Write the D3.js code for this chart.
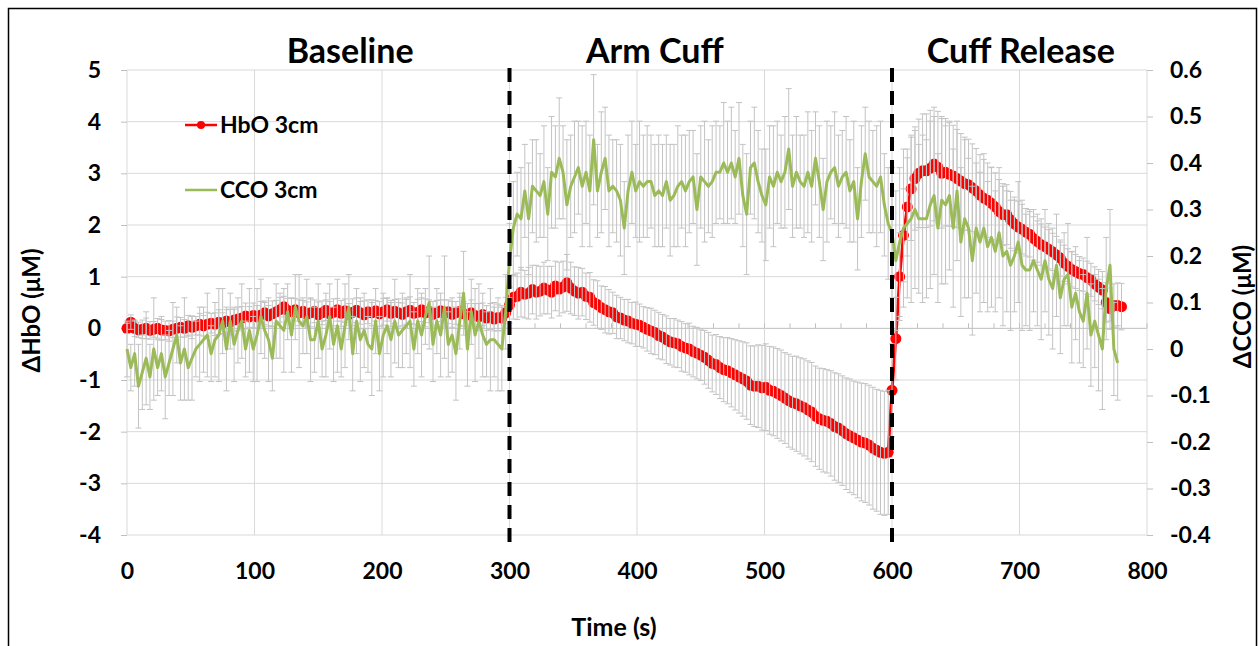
<!DOCTYPE html>
<html>
<head>
<meta charset="utf-8">
<script src="https://cdn.jsdelivr.net/npm/d3@7"></script>
<style>
  body { margin: 0; background: #fff; }
  text { font-family: Lato, "Open Sans", sans-serif; font-weight: bold; fill: #000; }
</style>
</head>
<body>
<div id="chart-area"></div>
<script>
const STEP = 3
const hbo = [
  0.0,0.12,0.0,-0.03,-0.02,0.0,-0.04,-0.02,0.0,-0.03,
  -0.04,-0.05,-0.02,0.0,0.02,0.0,0.05,0.02,0.05,0.08,
  0.05,0.08,0.1,0.08,0.12,0.1,0.14,0.12,0.16,0.18,
  0.2,0.24,0.22,0.25,0.22,0.26,0.3,0.24,0.28,0.32,
  0.36,0.42,0.35,0.32,0.36,0.3,0.33,0.27,0.3,0.33,
  0.26,0.3,0.35,0.28,0.31,0.36,0.29,0.34,0.27,0.31,
  0.35,0.3,0.26,0.32,0.3,0.34,0.28,0.32,0.36,0.29,
  0.33,0.3,0.27,0.32,0.35,0.29,0.31,0.36,0.3,0.33,
  0.27,0.3,0.34,0.29,0.32,0.27,0.3,0.33,0.28,0.26,
  0.3,0.25,0.22,0.27,0.2,0.23,0.18,0.21,0.2,0.3,
  0.45,0.6,0.62,0.7,0.66,0.68,0.75,0.7,0.72,0.78,
  0.74,0.7,0.82,0.76,0.8,0.88,0.78,0.72,0.68,0.7,
  0.62,0.6,0.5,0.46,0.4,0.36,0.32,0.3,0.22,0.2,
  0.16,0.14,0.1,0.08,0.06,0.02,-0.02,-0.05,-0.08,-0.14,
  -0.17,-0.22,-0.26,-0.28,-0.3,-0.35,-0.38,-0.4,-0.45,-0.48,
  -0.52,-0.56,-0.62,-0.68,-0.7,-0.76,-0.8,-0.82,-0.86,-0.9,
  -0.94,-0.98,-1.02,-1.1,-1.12,-1.12,-1.15,-1.14,-1.2,-1.22,
  -1.26,-1.3,-1.35,-1.4,-1.44,-1.46,-1.5,-1.53,-1.58,-1.62,
  -1.7,-1.75,-1.78,-1.8,-1.84,-1.9,-1.93,-1.98,-2.04,-2.08,
  -2.12,-2.16,-2.2,-2.22,-2.26,-2.32,-2.36,-2.4,-2.42,-2.4,
  -1.2,-0.2,1.0,1.8,2.35,2.7,2.9,3.0,3.05,3.05,
  3.1,3.18,3.12,3.0,3.02,2.98,2.95,2.9,2.85,2.8,
  2.78,2.72,2.66,2.58,2.52,2.48,2.42,2.35,2.26,2.2,
  2.2,2.1,2.02,1.96,1.92,1.86,1.82,1.74,1.68,1.62,
  1.58,1.53,1.48,1.42,1.36,1.26,1.2,1.14,1.1,1.06,
  1.04,0.98,0.94,0.86,0.8,0.74,0.5,0.38,0.44,0.44,
  0.42
]
const hboErr = [
  0.10,0.14,0.16,0.15,0.18,0.2,0.17,0.15,0.19,0.2,
  0.18,0.2,0.16,0.22,0.19,0.17,0.2,0.22,0.18,0.21,
  0.2,0.23,0.19,0.22,0.24,0.2,0.22,0.25,0.21,0.23,
  0.22,0.25,0.2,0.24,0.22,0.26,0.23,0.2,0.25,0.22,
  0.24,0.2,0.23,0.26,0.22,0.25,0.21,0.24,0.27,0.22,
  0.25,0.23,0.2,0.24,0.26,0.22,0.25,0.23,0.21,0.26,
  0.24,0.22,0.27,0.23,0.25,0.2,0.24,0.26,0.22,0.25,
  0.23,0.27,0.22,0.24,0.26,0.21,0.25,0.23,0.27,0.22,
  0.25,0.24,0.21,0.26,0.23,0.25,0.22,0.27,0.24,0.22,
  0.25,0.23,0.26,0.22,0.24,0.25,0.23,0.26,0.24,0.3,
  0.35,0.42,0.45,0.48,0.46,0.5,0.47,0.52,0.48,0.5,
  0.46,0.5,0.48,0.52,0.5,0.55,0.5,0.47,0.5,0.46,
  0.45,0.48,0.44,0.46,0.42,0.45,0.43,0.4,0.42,0.4,
  0.4,0.42,0.4,0.43,0.41,0.4,0.42,0.44,0.43,0.45,
  0.44,0.46,0.45,0.47,0.46,0.48,0.47,0.5,0.49,0.5,
  0.49,0.52,0.54,0.55,0.58,0.6,0.62,0.64,0.66,0.68,
  0.7,0.72,0.74,0.76,0.78,0.8,0.82,0.84,0.85,0.86,
  0.87,0.88,0.88,0.9,0.9,0.92,0.93,0.94,0.95,0.96,
  0.97,0.98,1.0,1.0,1.02,1.04,1.05,1.06,1.08,1.1,
  1.1,1.12,1.14,1.15,1.16,1.18,1.18,1.2,1.2,1.2,
  0.9,0.8,0.85,0.9,0.95,1.0,1.0,1.05,1.1,1.1,
  1.12,1.1,1.08,1.06,1.04,1.0,0.98,0.95,0.92,0.9,
  0.88,0.85,0.82,0.78,0.75,0.72,0.7,0.66,0.62,0.6,
  0.58,0.55,0.52,0.5,0.48,0.46,0.44,0.42,0.4,0.4,
  0.38,0.38,0.36,0.36,0.35,0.35,0.34,0.34,0.33,0.33,
  0.32,0.32,0.32,0.33,0.34,0.36,0.38,0.4,0.42,0.44,
  0.45
]
const cco = [
  0.0,-0.04,-0.01,-0.08,-0.05,-0.02,-0.06,0.0,-0.04,-0.01,
  -0.06,-0.03,0.0,0.03,-0.03,0.0,-0.04,-0.02,0.0,0.01,
  0.02,0.03,-0.01,0.02,0.03,0.06,0.0,0.06,0.01,0.04,
  0.06,0.0,0.04,0.0,0.03,0.07,0.04,0.02,-0.02,0.06,
  0.05,0.04,0.08,0.03,0.09,0.06,0.05,0.07,0.02,0.02,
  0.06,0.0,0.03,0.07,0.01,0.05,0.0,0.05,0.09,-0.01,
  0.06,0.02,0.04,0.01,0.0,0.06,-0.01,0.03,0.05,0.02,
  0.06,0.03,0.04,0.05,0.06,0.0,0.06,0.03,0.07,0.10,
  0.01,0.06,0.03,0.09,0.01,0.03,-0.01,0.06,0.12,0.0,
  0.08,0.03,0.06,0.03,0.01,0.02,0.02,0.01,0.0,0.08,
  0.19,0.26,0.29,0.28,0.34,0.28,0.35,0.34,0.33,0.36,
  0.29,0.38,0.37,0.41,0.38,0.31,0.35,0.37,0.39,0.35,
  0.38,0.34,0.45,0.34,0.38,0.41,0.34,0.35,0.34,0.32,
  0.26,0.34,0.38,0.34,0.36,0.35,0.36,0.36,0.33,0.34,
  0.33,0.36,0.32,0.33,0.35,0.36,0.34,0.36,0.37,0.30,
  0.37,0.36,0.35,0.36,0.38,0.38,0.40,0.38,0.40,0.37,
  0.41,0.33,0.29,0.39,0.40,0.36,0.33,0.31,0.37,0.35,
  0.38,0.36,0.38,0.43,0.35,0.38,0.36,0.35,0.38,0.35,
  0.41,0.36,0.30,0.36,0.38,0.39,0.35,0.37,0.38,0.34,
  0.36,0.28,0.36,0.42,0.37,0.36,0.35,0.37,0.31,0.27,
  0.25,0.19,0.23,0.26,0.27,0.28,0.30,0.28,0.28,0.28,
  0.31,0.33,0.26,0.32,0.31,0.33,0.26,0.34,0.23,0.28,
  0.26,0.19,0.26,0.23,0.26,0.22,0.24,0.21,0.25,0.20,
  0.21,0.18,0.20,0.23,0.18,0.17,0.17,0.19,0.17,0.15,
  0.19,0.15,0.13,0.18,0.11,0.15,0.16,0.09,0.12,0.08,
  0.06,0.12,0.03,0.06,0.03,0.00,0.13,0.18,0.00,-0.03
]
const ccoErr = [
  0.06,0.05,0.07,0.09,0.08,0.1,0.07,0.11,0.06,0.08,
  0.09,0.07,0.1,0.06,0.08,0.11,0.07,0.09,0.06,0.08,
  0.07,0.09,0.06,0.08,0.1,0.07,0.09,0.06,0.08,0.07,
  0.08,0.06,0.09,0.07,0.1,0.08,0.06,0.09,0.07,0.08,
  0.07,0.09,0.06,0.08,0.07,0.1,0.06,0.08,0.09,0.07,
  0.08,0.06,0.09,0.07,0.08,0.1,0.06,0.09,0.07,0.08,
  0.07,0.09,0.08,0.06,0.1,0.07,0.08,0.09,0.06,0.08,
  0.09,0.07,0.08,0.06,0.1,0.08,0.07,0.09,0.06,0.1,
  0.08,0.07,0.09,0.11,0.07,0.08,0.1,0.06,0.09,0.08,
  0.07,0.1,0.08,0.09,0.07,0.11,0.08,0.1,0.09,0.08,
  0.08,0.1,0.09,0.11,0.1,0.12,0.1,0.11,0.09,0.12,
  0.1,0.12,0.11,0.13,0.1,0.14,0.11,0.12,0.1,0.13,
  0.11,0.12,0.14,0.1,0.13,0.11,0.12,0.1,0.11,0.12,
  0.1,0.12,0.11,0.1,0.13,0.11,0.12,0.1,0.11,0.12,
  0.11,0.1,0.12,0.11,0.13,0.1,0.12,0.11,0.1,0.12,
  0.11,0.13,0.1,0.12,0.11,0.1,0.13,0.11,0.12,0.1,
  0.12,0.11,0.13,0.1,0.12,0.11,0.1,0.12,0.11,0.13,
  0.11,0.1,0.12,0.13,0.11,0.12,0.1,0.11,0.13,0.12,
  0.1,0.12,0.11,0.13,0.1,0.12,0.11,0.1,0.12,0.11,
  0.13,0.11,0.12,0.1,0.12,0.11,0.13,0.12,0.11,0.12,
  0.14,0.15,0.16,0.17,0.16,0.18,0.17,0.16,0.18,0.17,
  0.18,0.17,0.16,0.18,0.17,0.16,0.17,0.15,0.16,0.17,
  0.15,0.16,0.14,0.15,0.16,0.14,0.15,0.13,0.14,0.15,
  0.13,0.14,0.12,0.13,0.14,0.12,0.13,0.11,0.12,0.13,
  0.11,0.12,0.13,0.11,0.12,0.1,0.11,0.12,0.1,0.11,
  0.1,0.12,0.11,0.1,0.12,0.13,0.11,0.12,0.1,0.08
]
const phases = ['Baseline', 'Arm Cuff', 'Cuff Release']
const phaseCenters = [175, 414, 701]   // time (s) under each title
const phaseBreaks = [300, 600]
const xTicks = [0, 100, 200, 300, 400, 500, 600, 700, 800]
const yLeftTicks = [-4, -3, -2, -1, 0, 1, 2, 3, 4, 5]
const yRightTicks = [-0.4, -0.3, -0.2, -0.1, 0, 0.1, 0.2, 0.3, 0.4, 0.5, 0.6]

// Sizing
const MARGIN = { LEFT: 127, RIGHT: 112, TOP: 70, BOTTOM: 111 }
const W = 1259, H = 646
const WIDTH = W - MARGIN.LEFT - MARGIN.RIGHT
const HEIGHT = H - MARGIN.TOP - MARGIN.BOTTOM

const RED = '#ff0000', GREEN = '#9bbb59', GRID = '#d9d9d9', ERR = '#c3c3c3'

// plain hyphen for negatives, like the original
const fmtL = d => String(d)
const fmtR = d => d === 0 ? '0' : d.toFixed(1)

const svg = d3.select('#chart-area').append('svg')
  .attr('width', W)
  .attr('height', H)

// outer frame
svg.append('rect')
  .attr('x', 8.5).attr('y', 8.5)
  .attr('width', 1248).attr('height', 680)
  .attr('fill', 'none').attr('stroke', '#000').attr('stroke-width', 1.5)

const g = svg.append('g')
  .attr('transform', `translate(${MARGIN.LEFT}, ${MARGIN.TOP})`)

// Scales
const x = d3.scaleLinear().domain([0, 800]).range([0, WIDTH])
const yL = d3.scaleLinear().domain([-4, 5]).range([HEIGHT, 0])
const yR = d3.scaleLinear().domain([-0.4, 0.6]).range([HEIGHT, 0])

const hboData = hbo.map((v, i) => ({ t: i * STEP, v: v, e: hboErr[i] }))
const ccoData = cco.map((v, i) => ({ t: i * STEP, v: v, e: ccoErr[i] }))

// gridlines
g.append('g').selectAll('line').data(yLeftTicks).enter().append('line')
  .attr('x1', 0).attr('x2', WIDTH)
  .attr('y1', d => yL(d)).attr('y2', d => yL(d))
  .attr('stroke', d => d === 0 ? '#bfbfbf' : GRID).attr('stroke-width', 1)
g.append('g').selectAll('line').data(xTicks).enter().append('line')
  .attr('x1', d => x(d)).attr('x2', d => x(d))
  .attr('y1', 0).attr('y2', HEIGHT)
  .attr('stroke', GRID).attr('stroke-width', 1)

// minor ticks along the zero line
g.append('g').selectAll('line').data(d3.range(0, 801, 20)).enter().append('line')
  .attr('x1', d => x(d)).attr('x2', d => x(d))
  .attr('y1', yL(0)).attr('y2', yL(0) - 5)
  .attr('stroke', '#bfbfbf')

// Axes (labels drawn by d3 axis, domain hidden)
const yAxisL = g.append('g')
  .call(d3.axisLeft(yL).tickValues(yLeftTicks).tickSize(6).tickPadding(20).tickFormat(fmtL))
const yAxisR = g.append('g')
  .attr('transform', `translate(${WIDTH}, 0)`)
  .call(d3.axisRight(yR).tickValues(yRightTicks).tickSize(6).tickPadding(17).tickFormat(fmtR))
const xAxis = g.append('g')
  .attr('transform', `translate(0, ${HEIGHT})`)
  .call(d3.axisBottom(x).tickValues(xTicks).tickSize(0).tickPadding(28))
;[yAxisL, yAxisR, xAxis].forEach(a => {
  a.select('.domain').remove()
  a.selectAll('line').attr('stroke', '#bfbfbf')
  a.selectAll('text').style('font-family', 'Lato, sans-serif').style('font-weight', 'bold')
    .style('font-size', '23px').attr('fill', '#000')
})

// HbO series
g.append('path').datum(hboData)
  .attr('fill', 'none').attr('stroke', RED).attr('stroke-width', 3)
  .attr('d', d3.line().x(d => x(d.t)).y(d => yL(d.v)))
g.append('g').selectAll('circle').data(hboData).enter().append('circle')
  .attr('cx', d => x(d.t)).attr('cy', d => yL(d.v)).attr('r', 5.5)
  .attr('fill', RED)

// error bars
function errBars(data, y, cls) {
  const eb = g.append('g').attr('class', cls).attr('stroke', ERR).attr('stroke-width', 1)
  eb.selectAll('line.v').data(data).enter().append('line')
    .attr('x1', d => x(d.t)).attr('x2', d => x(d.t))
    .attr('y1', d => y(d.v - d.e)).attr('y2', d => y(d.v + d.e))
  eb.selectAll('line.top').data(data).enter().append('line')
    .attr('x1', d => x(d.t) - 3).attr('x2', d => x(d.t) + 3)
    .attr('y1', d => y(d.v + d.e)).attr('y2', d => y(d.v + d.e))
  eb.selectAll('line.bot').data(data).enter().append('line')
    .attr('x1', d => x(d.t) - 3).attr('x2', d => x(d.t) + 3)
    .attr('y1', d => y(d.v - d.e)).attr('y2', d => y(d.v - d.e))
}
errBars(hboData, yL, 'hbo-err')
errBars(ccoData, yR, 'cco-err')

// CCO series
g.append('path').datum(ccoData)
  .attr('fill', 'none').attr('stroke', GREEN).attr('stroke-width', 3)
  .attr('stroke-linejoin', 'round')
  .attr('d', d3.line().x(d => x(d.t)).y(d => yR(d.v)))

// phase dividers
g.append('g').selectAll('line').data(phaseBreaks).enter().append('line')
  .attr('x1', d => x(d)).attr('x2', d => x(d))
  .attr('y1', -2).attr('y2', HEIGHT + 16)
  .attr('stroke', '#000').attr('stroke-width', 4)
  .attr('stroke-dasharray', '14,9')

// phase titles
g.append('g').selectAll('text').data(phases).enter().append('text')
  .attr('x', (d, i) => x(phaseCenters[i]))
  .attr('y', -7)
  .attr('text-anchor', 'middle')
  .attr('font-size', '34px')
  .text(d => d)

// axis titles
g.append('text')
  .attr('x', WIDTH / 2 - 23).attr('y', HEIGHT + 101)
  .attr('text-anchor', 'middle').attr('font-size', '25px')
  .text('Time (s)')
g.append('text')
  .attr('transform', `translate(${-87}, ${HEIGHT / 2 + 8}) rotate(-90)`)
  .attr('text-anchor', 'middle').attr('font-size', '24px')
  .text('ΔHbO (μM)')
g.append('text')
  .attr('transform', `translate(${WIDTH + 104}, ${HEIGHT / 2 + 4}) rotate(-90)`)
  .attr('text-anchor', 'middle').attr('font-size', '24px')
  .text('ΔCCO (μM)')

// legend
const legend = g.append('g').attr('transform', 'translate(58, 0)')
const legendItems = [
  { label: 'HbO 3cm', color: RED, marker: true, y: 55 },
  { label: 'CCO 3cm', color: GREEN, marker: false, y: 120 }
]
legendItems.forEach(item => {
  legend.append('line')
    .attr('x1', 0).attr('x2', 32).attr('y1', item.y).attr('y2', item.y)
    .attr('stroke', item.color).attr('stroke-width', 2.5)
  if (item.marker) {
    legend.append('circle').attr('cx', 16).attr('cy', item.y).attr('r', 4).attr('fill', item.color)
  }
  legend.append('text')
    .attr('x', 35).attr('y', item.y + 8)
    .attr('font-size', '23px')
    .text(item.label)
})
</script>
</body>
</html>
